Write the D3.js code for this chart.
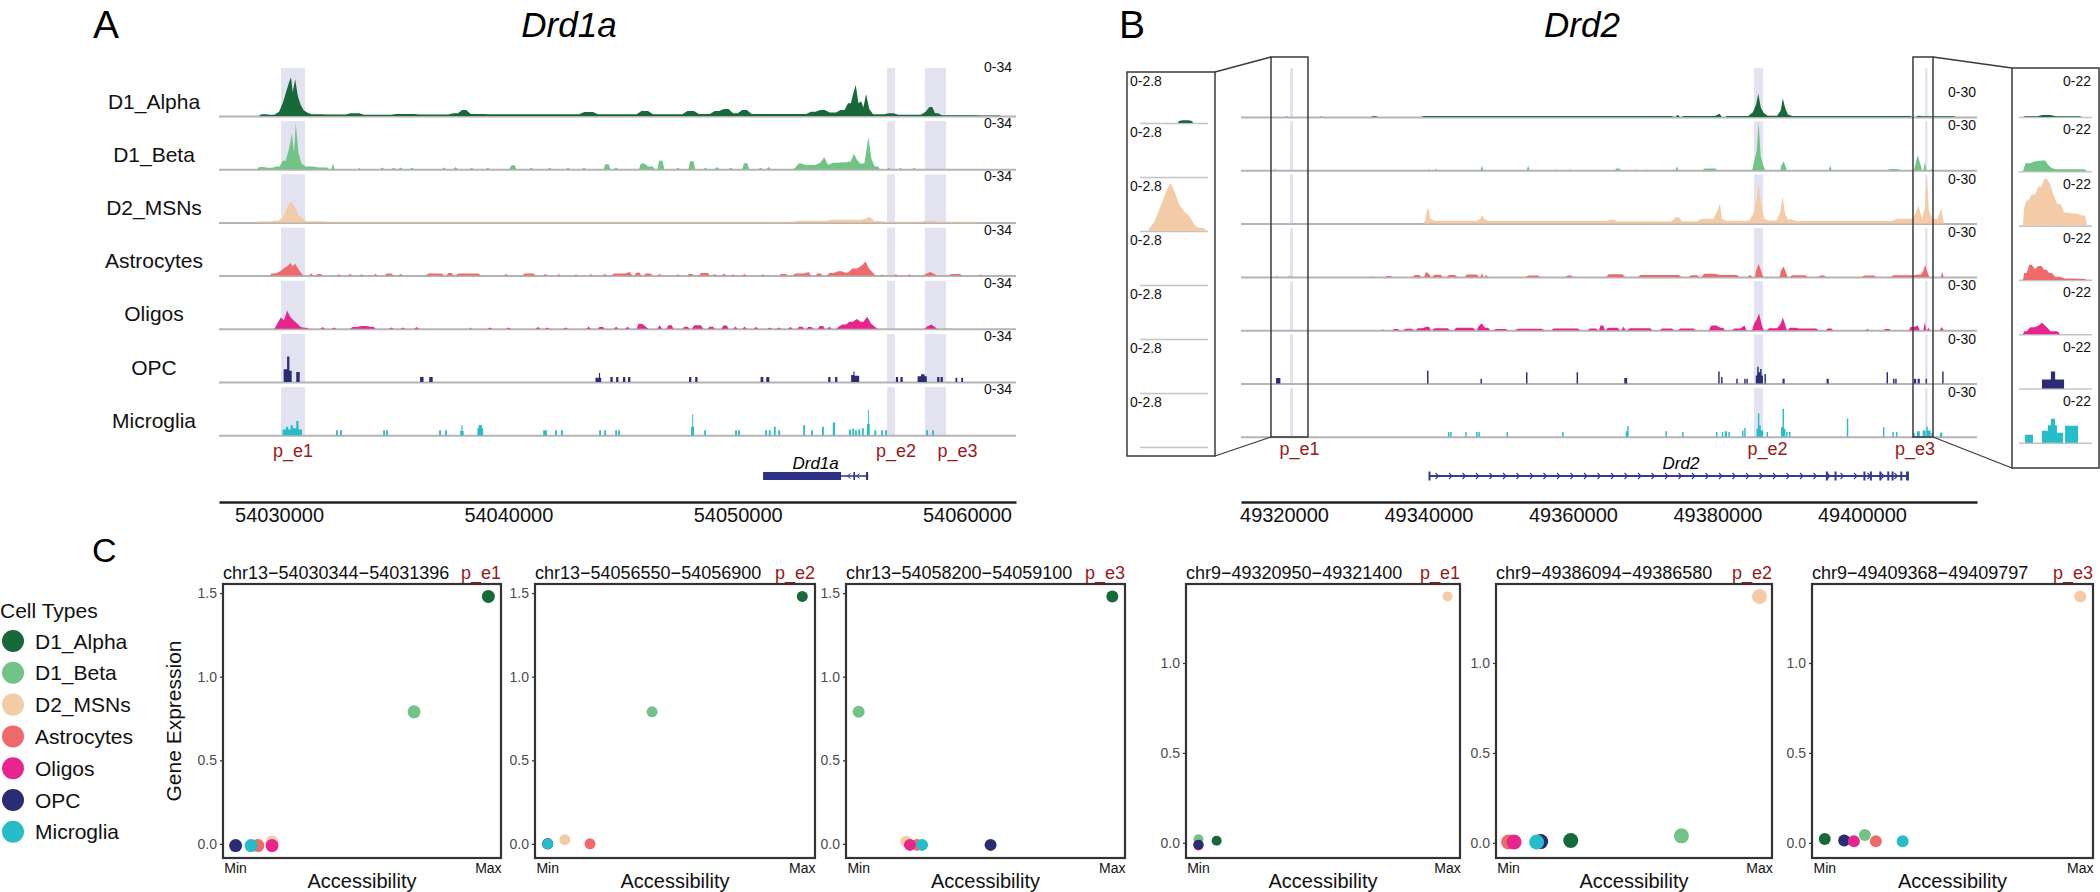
<!DOCTYPE html>
<html><head><meta charset="utf-8">
<script src="https://cdn.jsdelivr.net/npm/d3@7"></script>
<style>
body{margin:0;background:#fff}
svg{display:block}
text{font-family:"Liberation Sans",Arial,Helvetica,sans-serif}
</style></head>
<body><svg id="chart" width="2100" height="892"></svg>
<script>
// ---------------- DATA ----------------
const cellTypes = ["D1_Alpha","D1_Beta","D2_MSNs","Astrocytes","Oligos","OPC","Microglia"];
const cellColors = ["#17693A","#72C386","#F3CBA6","#EF6A6A","#E7258D","#2A2C74","#26BCC8"];
const blockyTypes = ["OPC","Microglia"];
const peakNames = ["p_e1","p_e2","p_e3"];

// Panel A : Drd1a locus (chr13). Coverage as bedGraph intervals [start kb, end kb, value], kb offsets from drd1Origin
const drd1Origin = 54030000;
const drd1View = [54027380, 54062140];
const drd1Ticks = [54030000, 54040000, 54050000, 54060000];
const drd1Max = 34;
const drd1RangeLabel = "0-34";
const drd1Peaks = [[0.09,1.13],[26.52,26.86],[28.17,29.09]];
const drd1Exons = [[21.11,24.51],[25.05,25.12],[25.6,25.69]];
const drd1Span = [21.11,25.69];

const drd1_D1_Alpha = [[-0.87,-0.5,1.2],[-0.5,-0.1,0.8],[-0.1,0.1,3],[0.1,0.25,10],[0.25,0.4,18],[0.4,0.48,24],[0.48,0.56,27.5],[0.56,0.64,17],[0.64,0.76,26],[0.76,0.88,14],[0.88,1.0,8],[1.0,1.15,4],[1.15,1.3,2.5],[1.3,2.0,1.2],[2.0,3.0,1],[3.0,3.6,2],[3.6,5.0,0.8],[5.0,6.0,1.5],[6.0,7.5,1],[7.5,7.9,2],[7.9,8.25,4.2],[8.25,9.0,1.5],[9.0,13.2,1.2],[13.2,13.8,2.8],[13.8,15.7,1.3],[15.7,16.2,3.5],[16.2,17.7,1.2],[17.7,18.2,3.5],[18.2,18.9,1.5],[18.9,19.3,3.5],[19.3,19.7,5],[19.7,20.1,2],[20.1,20.5,4.2],[20.5,23.1,1.5],[23.1,23.5,3],[23.5,23.9,4.2],[23.9,24.4,2.5],[24.4,24.75,4.2],[24.75,25.0,9],[25.0,25.08,16],[25.08,25.22,22],[25.22,25.32,9],[25.32,25.45,10.5],[25.45,25.52,6],[25.52,25.68,15.5],[25.68,25.8,5],[25.8,26.5,1.2],[26.5,26.9,2],[26.9,28.1,0.8],[28.1,28.3,3],[28.3,28.55,6.4],[28.55,28.8,2],[28.8,30.5,0.6],[30.5,31.5,0.3]];
const drd1_D1_Beta = [[-0.96,-0.6,1.5],[-0.6,-0.2,1],[-0.2,0.1,2],[0.1,0.35,6],[0.35,0.5,14],[0.5,0.62,25],[0.62,0.68,12],[0.68,0.78,32.5],[0.78,0.9,12],[0.9,1.05,4],[1.05,1.6,2],[1.6,2.2,1.2],[2.28,2.42,4.2],[3.45,3.55,1],[4.4,4.6,1.2],[4.9,5.1,1],[5.2,5.4,1.2],[5.7,5.9,1],[7.1,7.3,1.2],[7.6,7.8,1.5],[8.3,8.5,1],[9.0,9.2,1],[10.05,10.35,2.8],[10.9,11.1,1],[11.7,11.9,1],[12.5,12.7,1],[13.2,13.4,1],[14.15,14.45,3.5],[14.6,14.8,1.2],[15.7,16.0,4],[16.0,16.4,2],[16.5,16.8,6],[17.3,17.5,1],[17.85,18.15,5.6],[18.5,18.7,1],[19.0,19.2,1.5],[19.6,19.8,1],[20.2,20.5,4.2],[20.9,21.1,1],[21.25,21.45,1.5],[22.4,22.6,0.8],[22.6,22.85,4],[22.85,23.5,3],[23.5,23.7,4.5],[23.7,23.85,8.5],[23.85,24.05,3],[24.05,24.5,4.5],[24.5,24.85,5],[24.85,25.02,5.6],[25.02,25.12,11],[25.12,25.25,7],[25.25,25.62,4],[25.62,25.78,22.6],[25.78,25.9,7],[25.9,26.2,2],[26.5,26.7,1],[27.0,27.2,0.8],[27.6,27.8,0.8]];
const drd1_D2_MSNs = [[-1.0,-0.3,0.6],[-0.3,0.05,1.2],[0.05,0.2,3],[0.2,0.35,7],[0.35,0.45,12],[0.45,0.6,15],[0.6,0.75,11],[0.75,0.9,6],[0.9,1.1,2.5],[1.1,2.0,0.8],[2.0,22.5,0.5],[22.5,24.0,1.2],[24.0,25.5,1.8],[25.5,25.65,2.5],[25.65,25.85,4],[25.85,26.3,1],[26.3,28.1,0.5],[28.1,28.6,1.2],[28.6,30.5,0.4]];
const drd1_Astrocytes = [[-0.4,-0.1,1.5],[-0.1,0.1,2.5],[0.1,0.3,5],[0.3,0.45,7],[0.45,0.55,9],[0.55,0.65,6.5],[0.65,0.75,8.5],[0.75,0.9,5],[0.9,1.05,1.5],[1.3,1.5,1.5],[1.6,1.9,1.2],[2.5,2.7,1],[3.0,3.2,1.2],[3.5,3.7,1],[4.1,4.3,1.2],[4.6,5.0,1.4],[5.2,5.4,1.2],[6.4,7.2,1.5],[7.3,7.6,1.8],[7.7,8.8,1.5],[9.8,10.0,1.2],[10.6,11.2,1.5],[11.5,11.7,1.2],[12.1,12.3,1],[12.9,13.0,1.2],[13.5,13.7,1],[14.1,14.3,1.2],[14.5,15.2,1.5],[15.2,15.4,2.5],[15.5,15.8,2],[15.9,16.3,1.5],[16.5,16.7,1.2],[17.3,17.5,1],[17.8,18.1,1.2],[18.3,18.8,1.8],[18.9,19.1,1.2],[19.3,19.5,1.5],[19.7,19.9,1],[20.2,20.4,1.2],[21.0,21.2,1],[21.8,22.2,1.2],[22.4,23.0,1.5],[23.0,23.2,2.5],[23.4,23.7,1.5],[23.9,24.3,1.8],[24.3,24.6,3],[24.6,24.9,2.2],[24.9,25.3,5],[25.3,25.5,7],[25.5,25.65,10],[25.65,25.8,5],[25.8,26.0,2],[26.2,26.4,0.8],[26.8,27.0,1],[27.4,27.6,1],[28.1,28.3,1.2],[28.3,28.5,2.5],[28.5,28.7,1],[29.2,29.8,1.2],[30.5,30.7,0.8]];
const drd1_Oligos = [[-0.2,0.0,3],[0.0,0.15,8],[0.15,0.28,6],[0.28,0.42,13],[0.42,0.55,8.5],[0.55,0.7,6],[0.7,0.85,4],[0.85,1.0,1.5],[1.0,1.3,0.8],[1.8,2.0,1.2],[2.3,2.5,1],[3.1,3.5,1.2],[3.5,3.9,2],[3.9,4.2,1.5],[4.8,5.0,1],[5.3,5.5,1],[5.9,6.1,1.2],[8.3,8.4,1],[9.1,9.3,1],[9.9,10.1,1],[11.2,11.4,1.2],[11.6,11.8,1],[12.4,12.6,1],[13.4,13.6,1.5],[13.9,14.2,1.2],[14.6,14.8,1.5],[15.1,15.3,1.5],[15.6,15.9,3.5],[15.9,16.1,1.5],[16.5,16.7,2.5],[16.9,17.2,2.5],[17.6,17.9,1.5],[18.0,18.5,2.5],[18.7,19.0,1.5],[19.3,19.6,2.3],[19.8,20.0,1.5],[20.2,20.4,1.5],[20.7,20.9,1.2],[21.3,21.5,1],[21.7,21.9,1],[22.2,22.4,1.3],[22.6,22.9,1.5],[23.0,23.3,1.2],[23.5,23.8,2],[23.9,24.1,1.5],[24.3,24.5,1.5],[24.5,24.8,3],[24.8,25.1,5],[25.1,25.3,7],[25.3,25.55,5],[25.55,25.75,8.5],[25.75,25.9,3.5],[25.9,26.1,1.2],[28.15,28.35,1.5],[28.35,28.55,3],[28.55,28.7,1]];
const drd1_OPC = [[0.2,0.35,9],[0.35,0.45,18],[0.45,0.55,8],[0.75,0.9,7],[6.15,6.3,3.5],[6.55,6.7,3.5],[13.8,13.95,3],[13.95,14.0,6.4],[14.0,14.05,3],[14.45,14.55,3.5],[14.7,14.8,3.5],[15.0,15.1,3.5],[15.22,15.32,3.5],[17.88,17.98,3.5],[18.15,18.25,3.5],[21.0,21.12,3.5],[21.25,21.38,3.5],[23.95,24.05,3.5],[24.25,24.35,3.5],[24.95,25.05,5],[25.05,25.1,7.5],[25.1,25.3,4.5],[26.9,27.0,3.5],[27.1,27.2,3.5],[27.85,28.0,4],[28.0,28.15,5.5],[28.15,28.25,4],[28.7,28.8,3.5],[28.85,28.95,3.5],[29.5,29.58,3],[29.75,29.83,3]];
const drd1_Microglia = [[0.15,0.3,4],[0.3,0.4,6],[0.4,0.5,4],[0.5,0.6,7],[0.6,0.75,5],[0.75,0.85,10],[0.85,1.0,4],[2.48,2.56,3.5],[2.66,2.74,3.5],[4.54,4.62,3.5],[4.67,4.75,3.5],[6.98,7.06,3.5],[7.24,7.32,3.5],[7.9,7.95,3],[7.95,8.0,7],[8.0,8.05,3],[8.65,8.7,5],[8.7,8.85,7],[8.85,8.9,5],[11.52,11.68,3.5],[12.04,12.12,3.5],[12.3,12.38,3.5],[13.96,14.04,3.5],[14.18,14.26,3.5],[14.66,14.74,3.5],[14.79,14.87,3.5],[17.97,18.02,6],[18.02,18.06,15],[18.06,18.1,6],[18.54,18.62,3.5],[19.89,19.97,3.5],[20.02,20.1,3.5],[21.2,21.28,3.5],[21.36,21.44,3.5],[21.58,21.66,6],[21.77,21.85,3.5],[22.86,22.94,7],[23.2,23.28,3.5],[23.68,23.76,6],[24.15,24.25,9],[24.86,24.94,4],[25.0,25.08,4.5],[25.12,25.2,3.5],[25.26,25.34,4],[25.42,25.5,5],[25.64,25.68,8],[25.68,25.72,18],[25.72,25.76,8],[25.96,26.04,3.5],[26.26,26.34,3.5],[26.43,26.51,3.5],[28.22,28.3,3.5],[28.48,28.56,3.5]];
const drd1Cov = [drd1_D1_Alpha, drd1_D1_Beta, drd1_D2_MSNs, drd1_Astrocytes, drd1_Oligos, drd1_OPC, drd1_Microglia];

// Panel B : Drd2 locus (chr9). kb offsets from drd2Origin
const drd2Origin = 49320000;
const drd2View = [49314050, 49415920];
const drd2Ticks = [49320000, 49340000, 49360000, 49380000, 49400000];
const drd2Max = 30;
const drd2RangeLabel = "0-30";
const drd2Peaks = [[0.83,1.25],[65.05,66.3],[88.72,89.0]];
const drd2Span = [20.07,86.5];
const drd2Exons = [[20.0,20.15],[75.0,75.15],[76.2,76.35],[80.2,80.35],[81.1,81.25],[82.4,82.55],[83.5,83.65],[84.1,84.25],[85.3,85.45],[86.1,86.5]];

const drd2_D1_Alpha = [[0.3,0.5,0.6],[5.0,5.2,0.5],[12,13,0.4],[19,30,0.7],[30,40,0.6],[40,54,0.7],[54.2,54.8,1.4],[55,60,0.6],[60.0,60.6,2],[61,64.6,0.6],[64.6,65.2,3],[65.2,65.5,8],[65.5,65.8,14.5],[65.8,66.2,6],[66.2,66.6,2.5],[66.6,68.6,0.8],[68.6,68.9,4],[68.9,69.2,11.5],[69.2,69.5,6],[69.5,70,1.5],[70,87,0.6],[87.5,88,0.8],[88,93,0.4]];
const drd2_D1_Beta = [[-1.4,-1.1,1.2],[19.9,20.2,0.8],[20.8,21.3,0.8],[27.2,27.6,3],[33.6,34.0,3],[37.4,37.7,0.6],[39.5,39.8,0.6],[45.8,46.6,1.2],[48.5,48.8,0.6],[50.0,50.3,0.6],[54.2,54.6,2.5],[57.9,60.0,1.2],[64.8,65.3,5],[65.3,65.55,12],[65.55,65.85,30],[65.85,66.1,9],[66.1,66.6,3],[68.7,69.0,3],[69.0,69.3,5.6],[69.3,69.6,2],[75.4,75.8,3],[83.5,85.3,0.8],[87.2,87.5,3],[87.5,87.95,9.4],[87.95,88.3,3],[88.5,88.9,5],[89.5,89.9,1.2]];
const drd2_D2_MSNs = [[0.6,1.0,0.8],[19.3,19.75,2],[19.75,20.05,10.6],[20.05,20.5,3],[20.5,27.0,1.8],[27.0,27.3,3],[27.3,27.6,5],[27.6,28,2.5],[28,45,1.6],[45,45.8,2.5],[45.8,54,1.5],[54,54.8,4],[54.8,57.5,1.5],[57.5,59.8,3],[59.8,60.2,8],[60.2,60.45,12.5],[60.45,60.8,3],[60.8,64.7,1.8],[64.7,65.2,6],[65.2,65.5,14],[65.5,65.9,25],[65.9,66.2,12],[66.2,66.7,3],[66.7,68.5,2],[68.5,68.85,7],[68.85,69.2,17],[69.2,69.5,6],[69.5,70.5,2.5],[70.5,84.5,1.6],[84.5,87.2,3],[87.2,87.6,6],[87.6,88.0,11.5],[88.0,88.6,3],[88.6,88.85,10],[88.85,89.1,30],[89.1,89.4,8],[89.4,90.8,3],[90.8,91.2,9.4],[91.2,91.4,1]];
const drd2_Astrocytes = [[-1.1,-0.9,0.8],[0.6,0.8,0.8],[1.0,1.2,0.6],[12.2,12.4,0.6],[14,15,0.6],[17.8,19.0,1.2],[19.4,19.9,3],[19.9,20.3,1.8],[20.5,22,1.4],[22.5,24,1.2],[25,27,1.5],[27.2,27.6,2.5],[27.8,28.2,1.2],[33.5,35.5,0.8],[39,40,0.8],[44.6,47.2,1.6],[49,55,1.2],[56,57.5,1],[57.8,60,2],[60,63,1.2],[64.2,64.8,1.2],[65.2,65.5,4],[65.5,65.9,8],[65.9,66.3,3],[68.6,69.0,4],[69.0,69.3,6.5],[69.3,69.7,2.5],[70,72.5,1],[74,75,0.8],[80,82,0.8],[84,87.5,1],[87.5,88.4,1.5],[88.4,88.6,4],[88.6,88.9,7.5],[88.9,89.3,2.5],[90.9,91.3,3]];
const drd2_Oligos = [[13.5,13.8,0.6],[15,16,0.8],[16.5,18,0.9],[18.2,19.5,1.2],[19.5,20.3,2.2],[20.5,23,1.2],[23.5,26.5,1.5],[26.7,27.1,2.2],[27.1,27.6,4.4],[27.6,28.5,1.5],[29,31,0.8],[32,36,0.9],[37,41,1],[42,43.5,1],[43.6,44.4,3],[44.5,46.5,1.5],[46.7,47.3,2.2],[47.5,51,1.2],[52,54,1],[54.5,57,1],[58.8,60.2,3],[60.2,61,1.5],[62,63.5,1],[63.5,64,3],[64.8,65.3,4],[65.3,65.6,7],[65.6,65.9,10.5],[65.9,66.4,3],[66.8,68.6,1.2],[68.6,68.9,4],[68.9,69.2,8],[69.2,69.6,3],[69.7,71,1.5],[71,74,1],[75,76,1],[80.5,81,0.8],[83,84,0.8],[86.5,87.4,2],[87.4,88.0,3],[88.5,88.9,5],[89.0,89.4,1.5],[90.8,91.3,2]];
const drd2_OPC = [[-1.1,-0.5,3.5],[19.8,20.0,8],[27.2,27.4,3],[33.5,33.7,7],[40.5,40.7,7],[47.1,47.5,3.5],[60.1,60.3,7.5],[60.5,60.7,4],[62.6,62.8,3],[63.7,63.9,3],[64.0,64.2,3],[65.3,65.5,5],[65.5,65.7,10.5],[65.7,65.9,7],[65.9,66.1,9],[66.1,66.3,5],[66.5,66.7,6],[69.0,69.3,3],[75.1,75.4,3],[83.4,83.6,7],[84.3,84.5,3],[84.6,84.8,3],[87.2,87.5,3],[87.7,88.0,3],[88.8,89.0,3],[91.1,91.3,7.5]];
const drd2_Microglia = [[22.7,22.9,3],[23.0,23.2,3],[25.1,25.3,3],[26.6,26.8,3],[26.9,27.1,3],[30.8,31.0,3],[38.5,38.7,3],[47.3,47.5,3.5],[47.5,47.7,6.8],[52.8,53.0,3.5],[55.1,55.3,3],[59.8,60.0,3],[60.6,60.8,3],[61.0,61.3,3.5],[61.5,61.7,3],[63.4,63.6,4],[63.7,63.9,5.5],[65.4,65.6,5],[65.6,65.8,14.5],[65.8,66.0,7],[66.0,66.3,4],[66.8,67.0,3],[68.8,69.0,6],[69.0,69.2,17.5],[69.2,69.4,5],[69.5,69.7,3],[69.9,70.1,3],[77.9,78.1,11.5],[82.9,83.1,6],[84.2,84.4,3],[84.7,84.9,3],[87.1,87.3,2.5],[87.6,88.0,3.5],[88.4,88.8,4],[88.9,89.1,6.5],[89.1,89.5,4],[89.6,89.8,2.5],[90.8,91.1,2.5]];
const drd2Cov = [drd2_D1_Alpha, drd2_D1_Beta, drd2_D2_MSNs, drd2_Astrocytes, drd2_Oligos, drd2_OPC, drd2_Microglia];

// Zoomed insets of panel B (p_e1 and p_e3 windows), kb offsets from drd2Origin
const insetLeftWindow = [-1.8, 3.32];
const insetLeftMax = 2.8, insetLeftLabel = "0-2.8";
const insetLeftCov = [
  [[1.06,1.2,0.12],[1.2,2.05,0.16],[2.05,2.19,0.12]],
  [],
  [[-1.2,-0.9,0.2],[-0.9,-0.6,0.5],[-0.6,-0.35,1.0],[-0.35,-0.1,1.5],[-0.1,0.15,2.0],[0.15,0.4,2.5],[0.4,0.6,2.8],[0.6,0.8,2.5],[0.8,1.0,2.1],[1.0,1.2,1.6],[1.2,1.45,1.35],[1.45,1.7,1.1],[1.7,1.95,0.95],[1.95,2.2,0.65],[2.2,2.5,0.3],[2.5,3.2,0.17]],
  [],[],[],[]
];
const insetRightWindow = [87.06, 89.83];
const insetRightMax = 22, insetRightLabel = "0-22";
const insetRightCov = [
  [[87.21,87.86,0.4],[87.86,88.35,0.9],[88.35,89.45,0.4]],
  [[87.21,87.59,3.7],[87.59,87.86,4.6],[87.86,88.12,5],[88.12,88.24,2.8],[88.24,88.35,1.5],[88.35,89.64,0.9]],
  [[87.21,87.29,7.8],[87.29,87.48,11.5],[87.48,87.74,14.2],[87.74,87.97,17.9],[87.97,88.16,21.5],[88.16,88.31,19.2],[88.31,88.45,13.7],[88.45,88.69,10],[88.69,89.0,6],[89.0,89.37,5.5],[89.37,89.64,4.6]],
  [[87.21,87.40,3.2],[87.40,87.59,6.9],[87.59,87.74,5],[87.74,87.97,6.4],[87.97,88.16,4.6],[88.16,88.35,3.2],[88.35,88.69,1.4],[88.69,89.11,0.6],[89.11,89.64,0.5]],
  [[87.21,87.40,1.4],[87.40,87.74,3.2],[87.74,87.86,4],[87.86,88.0,5.3],[88.0,88.16,3.7],[88.16,88.62,1.4]],
  [[87.93,88.27,4.1],[88.27,88.43,7.8],[88.43,88.77,4.1]],
  [[87.29,87.59,3.7],[87.93,88.16,5.5],[88.16,88.27,8],[88.27,88.43,11],[88.43,88.50,8],[88.50,88.73,4.6],[88.81,89.30,7.8]]
];

// Panel C : accessibility (0 = Min, 1 = Max) vs gene expression, [cell type, accessibility, expression] in drawing order
const scatterRegions = ["chr13\u221254030344\u221254031396","chr13\u221254056550\u221254056900","chr13\u221254058200\u221254059100","chr9\u221249320950\u221249321400","chr9\u221249386094\u221249386580","chr9\u221249409368\u221249409797"];
const scatterPeakNames = ["p_e1","p_e2","p_e3","p_e1","p_e2","p_e3"];
const scatterGene = [0,0,0,1,1,1];
const scatter1 = [["D1_Alpha",1.0,1.48],["D1_Beta",0.706,0.79],["D2_MSNs",0.144,0.01],["OPC",0.0,-0.01],["Astrocytes",0.088,-0.01],["Microglia",0.061,-0.01],["Oligos",0.144,-0.01]];
const scatter2 = [["D1_Alpha",1.0,1.48],["D1_Beta",0.41,0.79],["D2_MSNs",0.067,0.025],["Astrocytes",0.166,0.0],["Oligos",0.0,0.0],["OPC",0.0,0.0],["Microglia",0.0,0.0]];
const scatter3 = [["D1_Alpha",1.0,1.48],["D1_Beta",0.0,0.79],["D2_MSNs",0.187,0.012],["Astrocytes",0.23,-0.006],["Oligos",0.202,-0.006],["OPC",0.52,-0.006],["Microglia",0.25,-0.006]];
const scatter4 = [["Astrocytes",0.0,-0.01],["Microglia",0.0,-0.01],["D1_Beta",0.0,0.02],["Oligos",0.0,-0.015],["OPC",0.0,-0.01],["D1_Alpha",0.073,0.012],["D2_MSNs",1.0,1.37]];
const scatter5 = [["D1_Alpha",0.248,0.013],["D1_Beta",0.689,0.039],["D2_MSNs",1.0,1.37],["Astrocytes",0.0,0.005],["Oligos",0.022,0.005],["OPC",0.128,0.007],["Microglia",0.112,0.005]];
const scatter6 = [["D1_Alpha",0.0,0.022],["D1_Beta",0.157,0.043],["D2_MSNs",1.0,1.37],["Astrocytes",0.2,0.009],["OPC",0.076,0.013],["Oligos",0.114,0.009],["Microglia",0.305,0.009]];
const scatterPoints = [scatter1, scatter2, scatter3, scatter4, scatter5, scatter6];
const yTickValues = [0, 0.5, 1.0, 1.5];

// ---------------- DRAWING ----------------
const svg = d3.select("#chart");
const colorOf = d3.scaleOrdinal(cellTypes, cellColors);
const peakRed = "#9A1818";
const hlColor = "#E2E2F0";
const baseGrey = "#B4B4B4";

// block rendering: each interval a rectangle
function blockPath(intervals, x, y, origin) {
  const y0 = y(0), top = y.domain()[1];
  return intervals.map(([s, e, v]) => {
    const x0 = x(origin + s * 1000), x1 = x(origin + e * 1000);
    const w = Math.max(x1 - x0, 0.9);
    return `M${x0},${y0}V${y(Math.min(v, top))}H${x0 + w}V${y0}Z`;
  }).join("");
}
// smooth rendering: contiguous runs of intervals become one area, with sloped flanks
function smoothPath(intervals, x, y, origin) {
  const top = y.domain()[1];
  const runs = [];
  intervals.forEach(iv => {
    const last = runs[runs.length - 1];
    if (last && Math.abs(last[last.length - 1][1] - iv[0]) < 1e-6) last.push(iv); else runs.push([iv]);
  });
  const area = d3.area().x(d => d[0]).y0(y(0)).y1(d => y(Math.min(d[1], top)));
  return runs.map(run => {
    const pts = [[x(origin + run[0][0] * 1000), 0]];
    run.forEach(([s, e, v]) => {
      const x0 = x(origin + s * 1000), x1 = x(origin + e * 1000), w = x1 - x0;
      if (w < 5) pts.push([(x0 + x1) / 2, v]);
      else { const inset = Math.min(w * 0.25, 2.5); pts.push([x0 + inset, v], [x1 - inset, v]); }
    });
    pts.push([x(origin + run[run.length - 1][1] * 1000), 0]);
    return area(pts);
  }).join("");
}

function drawTrackSet(o) {
  const g = svg.append("g");
  cellTypes.forEach((ct, i) => {
    const base = o.base0 + i * o.step;
    const y = d3.scaleLinear([0, o.max], [base, base - o.height]);
    if (o.peaks) {
      o.peaks.forEach(([s, e]) => {
        const x0 = o.x(o.origin + s * 1000), x1 = o.x(o.origin + e * 1000);
        g.append("rect").attr("x", x0).attr("y", base - o.hlHeight).attr("width", Math.max(x1 - x0, 2.5))
          .attr("height", o.hlHeight).attr("fill", hlColor);
      });
    }
    g.append("line").attr("x1", o.x.range()[0]).attr("x2", o.x.range()[1]).attr("y1", base + 0.5).attr("y2", base + 0.5)
      .attr("stroke", o.lineColor || baseGrey).attr("stroke-width", o.lineWidth || 2);
    const pathFn = blockyTypes.includes(ct) ? blockPath : smoothPath;
    g.append("path").attr("d", pathFn(o.cov[i], o.x, y, o.origin)).attr("fill", colorOf(ct));
    if (o.rangeLabel) {
      const off = o.labelOffset(i);
      g.append("text").attr("x", o.labelX).attr("y", base - off).attr("dominant-baseline", "central")
        .attr("text-anchor", o.labelAnchor).attr("font-size", 14).attr("fill", "#111").text(o.rangeLabel);
    }
    if (o.trackLabels) {
      g.append("text").attr("x", o.trackLabelX).attr("y", base - 15).attr("dominant-baseline", "central")
        .attr("text-anchor", "middle").attr("font-size", 21).attr("fill", "#111").text(ct);
    }
  });
  return g;
}

// ---- Panel letters & titles
svg.append("text").attr("x", 93).attr("y", 38).attr("font-size", 39).text("A");
svg.append("text").attr("x", 1119).attr("y", 38).attr("font-size", 39).text("B");
svg.append("text").attr("x", 92).attr("y", 562).attr("font-size", 34).text("C");
svg.append("text").attr("x", 569).attr("y", 37).attr("font-size", 35).attr("font-style", "italic").attr("text-anchor", "middle").text("Drd1a");
svg.append("text").attr("x", 1582).attr("y", 37).attr("font-size", 35).attr("font-style", "italic").attr("text-anchor", "middle").text("Drd2");

// ---- Panel A
const xA = d3.scaleLinear(drd1View, [219, 1016]);
drawTrackSet({x: xA, origin: drd1Origin, cov: drd1Cov, base0: 116, step: 53.2, height: 48, max: drd1Max,
  peaks: drd1Peaks, hlHeight: 48, rangeLabel: drd1RangeLabel, labelX: 1012, labelAnchor: "end",
  labelOffset: i => i === 0 ? 49 : 46, trackLabels: true, trackLabelX: 154});
drd1Peaks.forEach(([s, e], i) => {
  const nudge = [0, 5, 22][i];
  svg.append("text").attr("x", xA(drd1Origin + (s + e) / 2 * 1000) + nudge).attr("y", 457).attr("text-anchor", "middle")
    .attr("font-size", 18).attr("fill", peakRed).text(peakNames[i]);
});
// gene Drd1a
{
  const g = svg.append("g"), gy = 476, col = "#2B2F86";
  g.append("line").attr("x1", xA(drd1Origin + drd1Span[0] * 1000)).attr("x2", xA(drd1Origin + drd1Span[1] * 1000))
    .attr("y1", gy).attr("y2", gy).attr("stroke", col).attr("stroke-width", 1.6);
  drd1Exons.forEach(([s, e]) => {
    const x0 = xA(drd1Origin + s * 1000), x1 = xA(drd1Origin + e * 1000);
    g.append("rect").attr("x", x0).attr("y", gy - 4).attr("width", Math.max(x1 - x0, 1.5)).attr("height", 8).attr("fill", col);
  });
  const a0 = xA(drd1Origin + drd1Exons[0][1] * 1000), a1 = xA(drd1Origin + drd1Span[1] * 1000);
  d3.range(a0 + 8, a1 - 3, 9).forEach(px => {
    g.append("path").attr("d", `M${px + 1.5},${gy - 2.5}L${px - 1.5},${gy}L${px + 1.5},${gy + 2.5}`).attr("fill", "none").attr("stroke", col).attr("stroke-width", 1);
  });
  g.append("text").attr("x", (xA(drd1Origin + drd1Span[0] * 1000) + a1) / 2).attr("y", 469).attr("text-anchor", "middle")
    .attr("font-size", 17).attr("font-style", "italic").text("Drd1a");
}
// axis A
{
  const ax = svg.append("g").attr("transform", "translate(0,502)")
    .call(d3.axisBottom(xA).tickValues(drd1Ticks).tickSize(0).tickSizeOuter(0).tickPadding(6).tickFormat(d3.format("d")));
  ax.select(".domain").attr("stroke", "#222").attr("stroke-width", 2.5);
  ax.selectAll("text").attr("font-size", 20).attr("fill", "#111").style("font-family", "'Liberation Sans', Arial, sans-serif");
}

// ---- Panel B
const xB = d3.scaleLinear(drd2View, [1241, 1977]);
drawTrackSet({x: xB, origin: drd2Origin, cov: drd2Cov, base0: 117, step: 53.3, height: 48, max: drd2Max,
  peaks: drd2Peaks, hlHeight: 49, rangeLabel: drd2RangeLabel, labelX: 1976, labelAnchor: "end",
  labelOffset: i => i === 0 ? 25 : 45});
drd2Peaks.forEach(([s, e], i) => {
  const nudge = [8, 9, -11][i];
  svg.append("text").attr("x", xB(drd2Origin + (s + e) / 2 * 1000) + nudge).attr("y", 455).attr("text-anchor", "middle")
    .attr("font-size", 18).attr("fill", peakRed).text(peakNames[i]);
});
// zoom boxes and insets
const boxStroke = "#3a3a3a";
function zoomBox(win) {
  const x0 = xB(drd2Origin + win[0] * 1000), x1 = xB(drd2Origin + win[1] * 1000);
  svg.append("rect").attr("x", x0).attr("y", 57).attr("width", x1 - x0).attr("height", 437 - 57)
    .attr("fill", "none").attr("stroke", boxStroke).attr("stroke-width", 1.5);
  return [x0, x1];
}
const [lb0, lb1] = zoomBox(insetLeftWindow);
const [rb0, rb1] = zoomBox(insetRightWindow);
// left inset
svg.append("rect").attr("x", 1127).attr("y", 72).attr("width", 88).attr("height", 384).attr("fill", "#fff").attr("stroke", boxStroke).attr("stroke-width", 1.5);
svg.append("line").attr("x1", 1215).attr("y1", 72).attr("x2", lb0).attr("y2", 57).attr("stroke", boxStroke).attr("stroke-width", 1.3);
svg.append("line").attr("x1", 1215).attr("y1", 456).attr("x2", lb0).attr("y2", 437).attr("stroke", boxStroke).attr("stroke-width", 1.3);
const xIL = d3.scaleLinear([drd2Origin + insetLeftWindow[0] * 1000, drd2Origin + insetLeftWindow[1] * 1000], [1140, 1208]);
drawTrackSet({x: xIL, origin: drd2Origin, cov: insetLeftCov, base0: 123, step: 54, height: 48, max: insetLeftMax,
  rangeLabel: insetLeftLabel, labelX: 1130, labelAnchor: "start", labelOffset: i => i === 0 ? 42 : 45,
  lineColor: "#C4C4C4", lineWidth: 1.6});
// right inset
svg.append("rect").attr("x", 2012).attr("y", 68).attr("width", 87).attr("height", 400).attr("fill", "#fff").attr("stroke", boxStroke).attr("stroke-width", 1.5);
svg.append("line").attr("x1", rb1).attr("y1", 57).attr("x2", 2012).attr("y2", 68).attr("stroke", boxStroke).attr("stroke-width", 1.3);
svg.append("line").attr("x1", rb1).attr("y1", 437).attr("x2", 2012).attr("y2", 468).attr("stroke", boxStroke).attr("stroke-width", 1.3);
const xIR = d3.scaleLinear([drd2Origin + insetRightWindow[0] * 1000, drd2Origin + insetRightWindow[1] * 1000], [2019, 2092]);
drawTrackSet({x: xIR, origin: drd2Origin, cov: insetRightCov, base0: 117, step: 54.3, height: 48, max: insetRightMax,
  rangeLabel: insetRightLabel, labelX: 2091, labelAnchor: "end", labelOffset: i => i === 0 ? 36 : 42,
  lineColor: "#C4C4C4", lineWidth: 1.6});
// gene Drd2
{
  const g = svg.append("g"), gy = 476, col = "#353A92";
  const s0 = xB(drd2Origin + drd2Span[0] * 1000), s1 = xB(drd2Origin + drd2Span[1] * 1000);
  g.append("line").attr("x1", s0).attr("x2", s1).attr("y1", gy).attr("y2", gy).attr("stroke", col).attr("stroke-width", 2);
  d3.range(s0 + 8, s1 - 4, 13.5).forEach(px => {
    g.append("path").attr("d", `M${px - 1.5},${gy - 3}L${px + 1.5},${gy}L${px - 1.5},${gy + 3}`).attr("fill", "none").attr("stroke", col).attr("stroke-width", 1.1);
  });
  drd2Exons.forEach(([s, e]) => {
    const x0 = xB(drd2Origin + s * 1000), x1 = xB(drd2Origin + e * 1000);
    g.append("rect").attr("x", x0).attr("y", gy - 4.5).attr("width", Math.max(x1 - x0, 2)).attr("height", 9).attr("fill", col);
  });
  g.append("text").attr("x", (s0 + s1) / 2 + 12).attr("y", 469).attr("text-anchor", "middle")
    .attr("font-size", 17).attr("font-style", "italic").text("Drd2");
}
// axis B
{
  const ax = svg.append("g").attr("transform", "translate(0,502)")
    .call(d3.axisBottom(xB).tickValues(drd2Ticks).tickSize(0).tickSizeOuter(0).tickPadding(6).tickFormat(d3.format("d")));
  ax.select(".domain").attr("stroke", "#222").attr("stroke-width", 2.5);
  ax.selectAll("text").attr("font-size", 20).attr("fill", "#111").style("font-family", "'Liberation Sans', Arial, sans-serif");
}

// ---- Panel C : legend
svg.append("text").attr("x", 0).attr("y", 618).attr("font-size", 21).attr("fill", "#111").text("Cell Types");
cellTypes.forEach((ct, i) => {
  const cy = 641 + i * 31.8;
  svg.append("circle").attr("cx", 13).attr("cy", cy).attr("r", 11).attr("fill", colorOf(ct));
  svg.append("text").attr("x", 35).attr("y", cy).attr("dominant-baseline", "central").attr("font-size", 21).attr("fill", "#111").text(ct);
});

// ---- Panel C : scatter panels
const panelBoxes = [[223, 501], [535, 815], [846, 1125], [1186, 1460], [1496, 1772], [1812, 2093]];
const panelTop = 584, panelBottom = 858;
const pointR = [6.5, 5.5, 6, 5, 7.5, 6];
const geneYDomain = [0, 1].map(gi => {
  const vals = scatterPoints.filter((p, i) => scatterGene[i] === gi).flat().map(d => d[2]);
  const [lo, hi] = d3.extent(vals), pad = (hi - lo) * 0.05;
  return [lo - pad, hi + pad];
});
scatterPoints.forEach((pts, pi) => {
  const [L, R] = panelBoxes[pi];
  const g = svg.append("g");
  const x = d3.scaleLinear([-0.05, 1.05], [L, R]);
  const y = d3.scaleLinear(geneYDomain[scatterGene[pi]], [panelBottom, panelTop]);
  const ya = g.append("g").attr("transform", `translate(${L},0)`)
    .call(d3.axisLeft(y).tickValues(yTickValues.filter(v => v <= y.domain()[1])).tickSize(3).tickPadding(3).tickFormat(d3.format(".1f")));
  ya.select(".domain").remove();
  ya.selectAll("line").attr("stroke", "#333").attr("stroke-width", 1.2);
  ya.selectAll("text").attr("font-size", 14).attr("fill", "#4D4D4D").style("font-family", "'Liberation Sans', Arial, sans-serif");
  g.selectAll("circle").data(pts).join("circle")
    .attr("cx", d => x(d[1])).attr("cy", d => y(d[2])).attr("r", pointR[pi]).attr("fill", d => colorOf(d[0]));
  g.append("rect").attr("x", L).attr("y", panelTop).attr("width", R - L).attr("height", panelBottom - panelTop)
    .attr("fill", "none").attr("stroke", "#333").attr("stroke-width", 2.2);
  g.append("text").attr("x", x(0)).attr("y", 873).attr("text-anchor", "middle").attr("font-size", 14).attr("fill", "#111").text("Min");
  g.append("text").attr("x", x(1)).attr("y", 873).attr("text-anchor", "middle").attr("font-size", 14).attr("fill", "#111").text("Max");
  g.append("text").attr("x", (L + R) / 2).attr("y", 888).attr("text-anchor", "middle").attr("font-size", 20).attr("fill", "#111").text("Accessibility");
  g.append("text").attr("x", L).attr("y", 579).attr("font-size", 18).attr("fill", "#111").text(scatterRegions[pi]);
  g.append("text").attr("x", R).attr("y", 579).attr("text-anchor", "end").attr("font-size", 18).attr("fill", peakRed).text(scatterPeakNames[pi]);
});
svg.append("text").attr("transform", `translate(181,${(panelTop + panelBottom) / 2}) rotate(-90)`).attr("text-anchor", "middle")
  .attr("font-size", 21).attr("fill", "#111").text("Gene Expression");
</script>
</body></html>
